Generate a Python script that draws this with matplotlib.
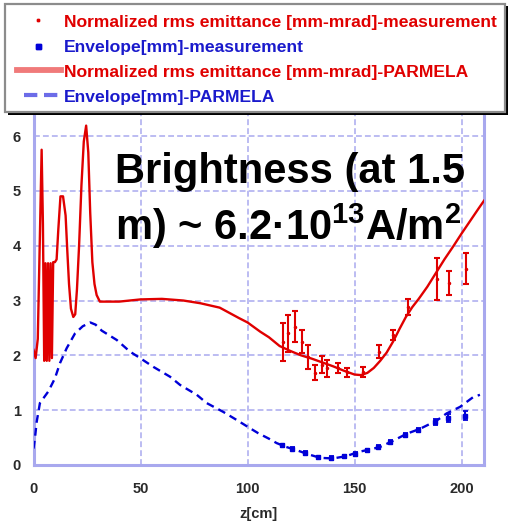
import matplotlib
matplotlib.use("Agg")
import matplotlib.pyplot as plt
from matplotlib.lines import Line2D
from matplotlib.patches import Rectangle
import numpy as np

plt.rcParams['font.family'] = ['Liberation Sans', 'DejaVu Sans']
plt.rcParams['font.weight'] = 'bold'
plt.rcParams['mathtext.fontset'] = 'custom'
plt.rcParams['mathtext.rm'] = 'Liberation Sans:bold'
plt.rcParams['mathtext.bf'] = 'Liberation Sans:bold'
plt.rcParams['mathtext.it'] = 'Liberation Sans:bold'

# PARMELA normalized rms emittance [mm-mrad] along z [cm]
emit_sim_z = [0, 1.0, 2.0, 3.0, 3.8, 4.4, 5.0, 5.6, 6.2, 6.8, 7.4, 8.0, 8.6, 9.2,
              10.0, 10.8, 11.6, 12.6, 13.8, 15.0, 15.8, 16.6, 17.5, 18.6, 19.5,
              20.3, 21.3, 22.4, 23.5, 24.6, 25.6, 26.5, 27.5, 28.5, 29.5, 31,
              40, 50, 60, 70, 78, 87, 96, 100, 106, 110, 115, 120, 125, 130, 135,
              140, 145, 150, 153, 156, 159, 162, 165, 168, 171, 174, 177, 180,
              184, 188, 192, 196, 200, 204, 208, 210.5]
emit_sim_val = [2.1, 1.95, 2.3, 4.2, 5.75, 4.4, 1.9, 3.68, 1.9, 3.68, 1.9, 3.68, 1.95, 3.7,
                3.7, 3.75, 4.3, 4.9, 4.9, 4.55, 3.9, 3.3, 2.85, 2.7, 2.75,
                3.2, 4.0, 5.1, 5.9, 6.19, 5.7, 4.6, 3.7, 3.3, 3.1, 2.98,
                2.98, 3.02, 3.03, 3.0, 2.95, 2.87, 2.68, 2.6, 2.43, 2.33, 2.17, 2.08, 2.0, 1.94, 1.87,
                1.8, 1.72, 1.65, 1.64, 1.68, 1.77, 1.9, 2.05, 2.25, 2.48, 2.7, 2.88, 3.03,
                3.25, 3.5, 3.75, 3.98, 4.22, 4.45, 4.68, 4.82]

# PARMELA beam envelope [mm]
env_sim_z = [0, 0.7, 1.5, 3.0, 6.9, 10, 12.4, 15.5, 19.4, 23, 26.5, 29, 31.9, 38.9,
             45, 49.8, 56, 63.8, 68.5, 76.3, 80.9, 88.6, 95, 101.2, 105, 110, 113.6,
             118, 123, 128, 134, 140, 146, 152, 158, 162, 167.4, 174.4, 180.6, 188.4,
             193, 199.3, 205.5, 208.6]
env_sim_val = [0.3, 0.5, 0.79, 1.13, 1.34, 1.58, 1.86, 2.13, 2.4, 2.53, 2.6, 2.56, 2.45, 2.28,
               2.07, 1.95, 1.79, 1.61, 1.46, 1.28, 1.13, 0.97, 0.82, 0.67, 0.58, 0.48, 0.4,
               0.33, 0.27, 0.2, 0.13, 0.12, 0.16, 0.24, 0.29, 0.33, 0.43, 0.57, 0.66, 0.81,
               0.94, 1.06, 1.24, 1.28]

# Measured normalized rms emittance: position, low and high ends of the error bar
emit_meas_z = [116.7, 119, 122.2, 125.3, 128.4, 131.5, 134.7, 137, 142.4, 146.4,
               154, 161.6, 167.8, 174.9, 188.7, 194.3, 201.9]
emit_meas_lo = [1.89, 2.07, 2.25, 2.04, 1.76, 1.55, 1.68, 1.61, 1.68, 1.61,
                1.61, 1.95, 2.28, 2.74, 3.01, 3.10, 3.30]
emit_meas_hi = [2.59, 2.74, 2.80, 2.46, 2.19, 1.82, 1.98, 1.92, 1.86, 1.77,
                1.79, 2.19, 2.46, 3.02, 3.77, 3.54, 3.86]

# Measured envelope [mm]
env_meas_z = [116, 121, 127, 133, 139, 145, 150, 156, 161, 166.5, 173.5, 179.5,
              187.5, 193.5, 201.5]
env_meas_val = [0.36, 0.3, 0.22, 0.14, 0.13, 0.16, 0.2, 0.27, 0.33, 0.42, 0.55, 0.64,
                0.78, 0.86, 0.9]
env_meas_err = [0.03, 0.03, 0.03, 0.03, 0.03, 0.03, 0.03, 0.03, 0.03, 0.03, 0.04, 0.04,
                0.05, 0.07, 0.08]

x_ticks = [0, 50, 100, 150, 200]
y_ticks = [0, 1, 2, 3, 4, 5, 6]

legend_labels = ["Normalized rms emittance [mm-mrad]-measurement",
                 "Envelope[mm]-measurement",
                 "Normalized rms emittance [mm-mrad]-PARMELA",
                 "Envelope[mm]-PARMELA"]

RED = '#e00000'
BLUE = '#0000d8'
SPINE = '#a8a8ee'
GRID = '#bcbcf2'
INK = '#2a2a2a'

W, H = 509, 522
fig = plt.figure(figsize=(W / 100, H / 100), dpi=100)
ax = fig.add_axes([33.5 / W, 57 / H, (484 - 33.5) / W, (465 - 113) / H])

ax.plot(emit_sim_z, emit_sim_val, color=RED, lw=1.7, zorder=3)
ax.plot(env_sim_z, env_sim_val, color=BLUE, lw=1.7, linestyle=(0, (3.3, 2.2)), zorder=3)

lo = np.array(emit_meas_lo)
hi = np.array(emit_meas_hi)
mid = (lo + hi) / 2
ax.errorbar(emit_meas_z, mid, yerr=(hi - lo) / 2, fmt='o', ms=1.5, color=RED,
            ecolor=RED, elinewidth=1.5, capsize=2.2, capthick=1.5, zorder=4)
ax.errorbar(env_meas_z, env_meas_val, yerr=env_meas_err, fmt='s', ms=3, color=BLUE,
            ecolor=BLUE, elinewidth=1.5, capsize=1.8, capthick=1.3, zorder=4)

ax.set_xlim(0, 210.5)
ax.set_ylim(0, 6.42)
ax.set_xticks(x_ticks)
ax.set_yticks(y_ticks)
ax.set_xticklabels([str(v) for v in x_ticks], fontweight='bold')
ax.set_yticklabels([str(v) for v in y_ticks], fontweight='bold')
ax.tick_params(length=0, labelsize=10.5, labelcolor=INK)
ax.tick_params(axis='y', pad=9)
ax.tick_params(axis='x', pad=12)
ax.grid(True, color=GRID, lw=1.4, linestyle=(0, (3, 1.6)), zorder=1)
for side in ('left', 'bottom', 'right'):
    ax.spines[side].set_color(SPINE)
    ax.spines[side].set_linewidth(2.2)
ax.spines['top'].set_visible(False)
ax.set_xlabel('z[cm]', fontsize=10.5, fontweight='bold', color=INK, labelpad=8)

ax.text(0.181, 0.801, 'Brightness (at 1.5', transform=ax.transAxes,
        fontsize=30, fontweight='bold', color='black', va='baseline', ha='left', zorder=6)
ax.text(0.181, 0.639, 'm) ~ 6.2\u00b710$^{13}$A/m$^{2}$', transform=ax.transAxes,
        fontsize=30, fontweight='bold', color='black', va='baseline', ha='left', zorder=6)

# Legend box with drop shadow, drawn in pixel units of the figure
def px(x, y):
    return x / W, 1 - y / H

fig.add_artist(Rectangle(px(8, 115), 499.5 / W, 109 / H, transform=fig.transFigure,
                         facecolor='black', edgecolor='none', zorder=10))
fig.add_artist(Rectangle(px(5, 112), 500 / W, 108 / H, transform=fig.transFigure,
                         facecolor='white', edgecolor='#8c8c8c', lw=1.6, zorder=11))

key_styles = [
    dict(xs=(37.5, 37.5), marker='s', ms=2.0, color=RED, lw=0),
    dict(xs=(38, 38), marker='s', ms=3.6, color=BLUE, lw=0),
    dict(xs=(17, 61), marker=None, ms=0, color='#f07a7a', lw=4.2),
    dict(xs=(24, 59), marker=None, ms=0, color='#6c6ce8', lw=3.0, ls=(0, (3.2, 1.6))),
]
key_y = [20, 45.5, 70, 95]
text_base = [27.5, 52, 77, 102]
text_colors = [RED, '#1a1acc', RED, '#1a1acc']
for st, ky, tb, lab, tc in zip(key_styles, key_y, text_base, legend_labels, text_colors):
    x0, y0 = px(st['xs'][0], ky)
    x1, y1 = px(st['xs'][1], ky)
    fig.add_artist(Line2D([x0, x1], [y0, y1], transform=fig.transFigure,
                          color=st['color'], lw=st['lw'], marker=st['marker'],
                          ms=st['ms'], ls=st.get('ls', '-'), zorder=12))
    tx, ty = px(64, tb)
    fig.text(tx, ty, lab, fontsize=12.6, fontweight='bold', color=tc,
             va='baseline', ha='left', zorder=12)

fig.savefig('out.png', dpi=100)
